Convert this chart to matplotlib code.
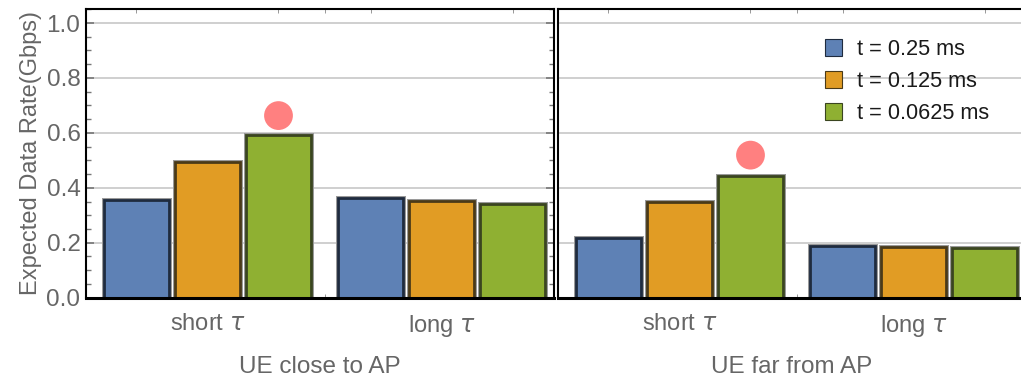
import matplotlib.pyplot as plt
from matplotlib.patches import Patch
from matplotlib.ticker import MultipleLocator, FixedLocator
import numpy as np

plt.rcParams['font.family'] = ['Liberation Sans', 'DejaVu Sans']
plt.rcParams['mathtext.fontset'] = 'dejavusans'

# expected data rate (Gbps) per slot duration, [short tau, long tau]
series = ['t = 0.25 ms', 't = 0.125 ms', 't = 0.0625 ms']
groups = ['short $\\tau$', 'long $\\tau$']
panels = ['UE close to AP', 'UE far from AP']

close_rates = [[0.356, 0.362],
               [0.493, 0.352],
               [0.592, 0.341]]
far_rates = [[0.216, 0.188],
             [0.347, 0.185],
             [0.443, 0.182]]
# markers above the best short-tau bar
close_peak = 0.663
far_peak = 0.519

fills = ['#5E81B5', '#E19C24', '#8FB032']
edges = ['#1F2B3E', '#4A3A18', '#3A4520']
grey = '#666666'

group_gap = 3.3
bar_w = 0.915

fig = plt.figure(figsize=(10.21, 3.76), dpi=100)
W, H = 1021, 376
ax_l = fig.add_axes([86 / W, (H - 297.7) / H, 468 / W, 288.7 / H])
ax_r = fig.add_axes([558 / W, (H - 297.7) / H, 468 / W, 288.7 / H])


def draw_panel(ax, rates, peak, title, show_y):
    centers = []
    for g in range(2):
        for s in range(3):
            x = g * group_gap + s
            centers.append(x)
            ax.bar(x, rates[s][g], width=bar_w, color=fills[s],
                   edgecolor='#9a9a9a', linewidth=3.6, zorder=2)
            ax.bar(x, rates[s][g], width=bar_w, color=fills[s],
                   edgecolor=edges[s], linewidth=2.0, zorder=3)
    ax.scatter([2], [peak], s=430, color='#FF8080', edgecolors='none', zorder=4)

    ax.set_xlim(-0.711, 5.88)
    ax.set_ylim(0, 1.051)
    for y in [0.2, 0.4, 0.6, 0.8, 1.0]:
        ax.axhline(y, color='#cccccc', lw=1.3, zorder=1)

    ax.set_xticks([1, 1 + group_gap])
    ax.set_xticklabels(groups, fontsize=17, color=grey)
    ax.xaxis.set_minor_locator(FixedLocator(centers + [2.65]))
    ax.tick_params(axis='x', which='major', length=0, pad=11)
    ax.tick_params(axis='x', which='minor', direction='in', length=3,
                   color='#888888', top=True, bottom=True)
    ax.set_xlabel(title, fontsize=17.5, color=grey, labelpad=12)

    ax.yaxis.set_major_locator(MultipleLocator(0.2))
    ax.yaxis.set_minor_locator(MultipleLocator(0.05))
    if show_y:
        ax.set_yticks([0, 0.2, 0.4, 0.6, 0.8, 1.0])
        ax.set_yticklabels(['0.0', '0.2', '0.4', '0.6', '0.8', '1.0'],
                           fontsize=17.5, color=grey)
        ax.tick_params(axis='y', which='major', direction='in', length=6,
                       width=1.2, color='#777777', left=True, right=True, pad=4)
        ax.tick_params(axis='y', which='minor', direction='in', length=3.5,
                       width=1.0, color='#777777', left=True, right=True)
        ax.set_ylabel('Expected Data Rate(Gbps)', fontsize=17, color=grey,
                      labelpad=3)
    else:
        ax.tick_params(axis='y', which='both', left=False, right=False,
                       labelleft=False)

    for side in ['left', 'right', 'top']:
        ax.spines[side].set_linewidth(1.5)
        ax.spines[side].set_color('black')
    ax.spines['bottom'].set_linewidth(2.2)
    ax.spines['bottom'].set_zorder(5)


draw_panel(ax_l, close_rates, close_peak, panels[0], True)
draw_panel(ax_r, far_rates, far_peak, panels[1], False)

handles = [Patch(facecolor=fills[i], edgecolor=edges[i], linewidth=0.8)
           for i in range(3)]
fig.legend(handles, series, loc='upper left',
           bbox_to_anchor=(825 / W, 1 - 39 / H), bbox_transform=fig.transFigure,
           frameon=False, fontsize=15.7, handlelength=0.8, handleheight=0.8,
           handletextpad=0.65, labelspacing=0.5, borderpad=0, borderaxespad=0,
           labelcolor='#1a1a1a')

fig.savefig('out.png', dpi=100)
